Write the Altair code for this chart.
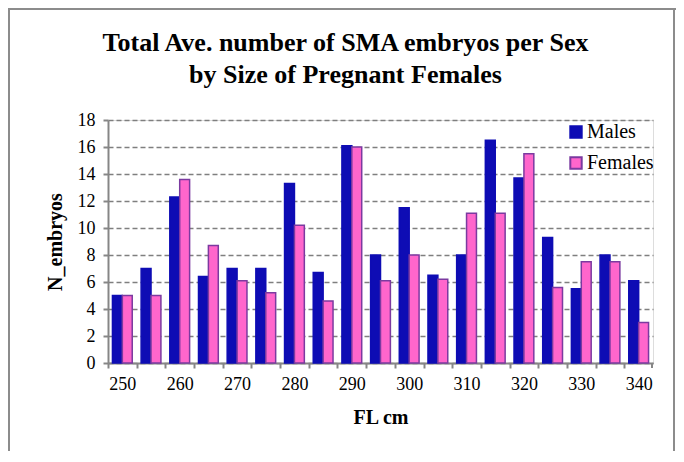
import altair as alt
import pandas as pd

sizes = [250, 255, 260, 265, 270, 275, 280, 285, 290, 295,
         300, 305, 310, 315, 320, 325, 330, 335, 340]
males = [5.0, 7.0, 12.3, 6.4, 7.0, 7.0, 13.3, 6.7, 16.1, 8.0,
         11.5, 6.5, 8.0, 16.5, 13.7, 9.3, 5.5, 8.0, 6.1]
females = [5.0, 5.0, 13.6, 8.7, 6.1, 5.2, 10.2, 4.6, 16.0, 6.1,
           8.0, 6.2, 11.1, 11.1, 15.5, 5.6, 7.5, 7.5, 3.0]
series = ["Males", "Females"]
fill_colors = ["#0E0CB4", "#FF66CC"]
stroke_colors = ["#0E0CB4", "#7B3AA0"]

rows = []
for s, m, f in zip(sizes, males, females):
    rows.append({"FL": s, "Sex": "Males", "N": m})
    rows.append({"FL": s, "Sex": "Females", "N": f})
df = pd.DataFrame(rows)

W, H = 545, 243
step = W / len(sizes)
FONT = "Liberation Serif, serif"

legend_kw = dict(title=None, orient="none", legendX=458, legendY=2,
                 labelFont=FONT, labelFontSize=20, labelColor="black",
                 symbolType="square", symbolSize=130,
                 symbolStrokeWidth=2, rowPadding=11, labelOffset=1)

bars = alt.Chart(df).mark_bar(strokeWidth=1.5).encode(
    x=alt.X("FL:O", sort=sizes,
            scale=alt.Scale(paddingInner=0.31, paddingOuter=0.155),
            axis=alt.Axis(title="FL cm", labelAngle=0,
                          labelExpr="datum.value % 10 == 0 ? datum.label : ''",
                          tickOffset=-step / 2, labelOffset=step / 2,
                          tickSize=5, tickWidth=2, tickColor="#868686",
                          domainColor="#868686", domainWidth=2,
                          labelFont=FONT, labelFontSize=18, labelColor="black",
                          labelPadding=7,
                          titleFont=FONT, titleFontSize=20, titleFontWeight="bold",
                          titleColor="black", titlePadding=14, grid=False)),
    xOffset=alt.XOffset("Sex:N", sort=series),
    y=alt.Y("N:Q", scale=alt.Scale(domain=[0, 18]),
            axis=alt.Axis(title="N_embryos", values=list(range(0, 19, 2)),
                          tickSize=5, tickWidth=2, tickColor="#868686",
                          domainColor="#868686", domainWidth=2,
                          gridColor="#7f7f7f", gridDash=[5, 3], gridWidth=1.5,
                          labelFont=FONT, labelFontSize=18, labelColor="black",
                          labelPadding=8,
                          titleFont=FONT, titleFontSize=20, titleFontWeight="bold",
                          titleColor="black", titlePadding=12)),
    color=alt.Color("Sex:N", sort=series,
                    scale=alt.Scale(domain=series, range=fill_colors),
                    legend=alt.Legend(**legend_kw)),
    stroke=alt.Stroke("Sex:N", sort=series,
                      scale=alt.Scale(domain=series, range=stroke_colors),
                      legend=alt.Legend(**legend_kw)),
)

end_tick = alt.Chart(df).mark_rule(color="#868686", strokeWidth=2).encode(
    x=alt.value(W - 1), y=alt.value(H), y2=alt.value(H + 5))

frame_left = alt.Chart(df).mark_rule(color="#8c8c8c", strokeWidth=2).encode(
    x=alt.value(-99), y=alt.value(-111), y2=alt.value(H + 100))
frame_top = alt.Chart(df).mark_rule(color="#8c8c8c", strokeWidth=2).encode(
    x=alt.value(-100), x2=alt.value(W + 23), y=alt.value(-111))
frame_right = alt.Chart(df).mark_rule(color="#8c8c8c", strokeWidth=2).encode(
    x=alt.value(W + 21), y=alt.value(-111), y2=alt.value(H + 100))

chart = alt.layer(bars, end_tick, frame_left, frame_top, frame_right).properties(
    width=W, height=H,
    title=alt.TitleParams(
        text=["Total Ave. number of SMA embryos per Sex", "by Size of  Pregnant Females"],
        font=FONT, fontSize=26, fontWeight="bold", color="black",
        anchor="middle", dx=-35, lineHeight=32, offset=-80),
    padding={"left": 100, "top": 112, "right": 23, "bottom": 88},
    autosize=alt.AutoSizeParams(type="none"),
).configure_view(stroke=None).configure(background="white", font=FONT)

chart.save("out.html", embed_options={"renderer": "svg", "actions": False})
